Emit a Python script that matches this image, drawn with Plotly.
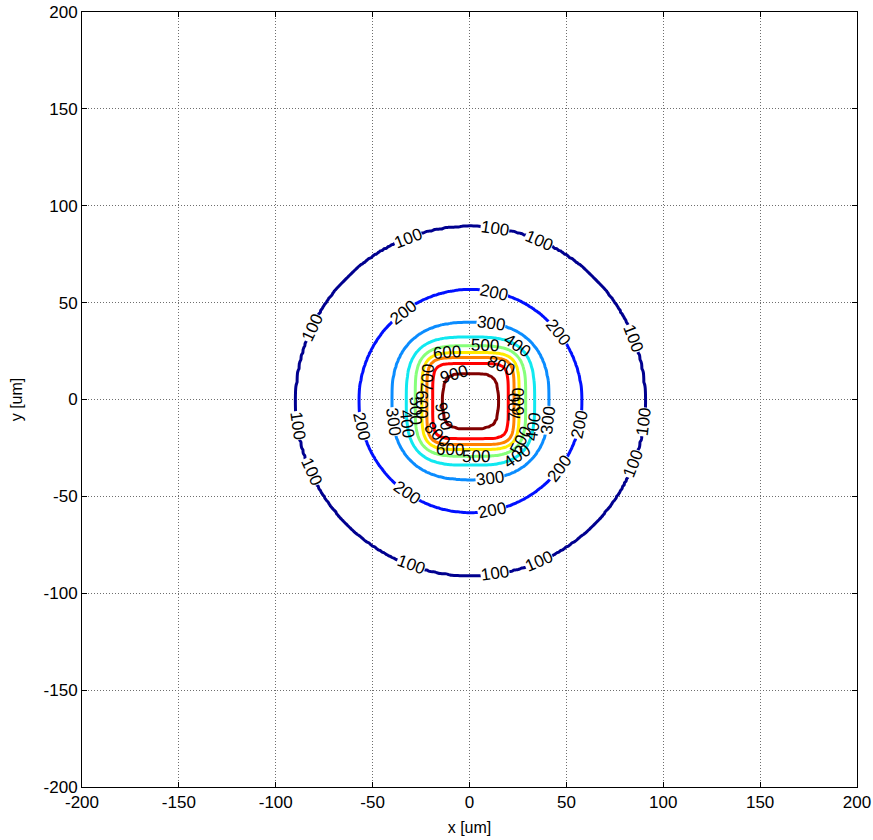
import numpy as np
import plotly.graph_objects as go

# Contour levels of the field and the size of each closed level curve (um)
levels = [100, 200, 300, 400, 500, 600, 700, 800, 900]
half_width = [90.0, 57.5, 40.5, 33.0, 28.5, 25.0, 22.5, 19.5, 14.5]   # along x / y axes
diag_radius = [90.0, 57.5, 43.5, 37.5, 33.5, 30.5, 28.0, 24.5, 16.8]  # along the 45 deg diagonals
level_colors = ["#00008F", "#0010FF", "#0A8CFF", "#10E8F0", "#86FF7A",
                "#FFEA00", "#FF8000", "#FF0000", "#800000"]
peak_value = 960.0
center = (0.5, -0.8)

# Polar angles (deg) at which each level curve carries an inline label
label_angles = {
    100: [111, 82, 67, 21, -7, -21, -67, -82, -110, -156, -172, 155],
    200: [127, 78, 38, -12, -37, -79, -125, -167],
    300: [75, -14, -76, -165],
    400: [50, -22, -50, -160],
    500: [75, -38, -84, -170],
    600: [116, -1, -113, -176],
    700: [152, -8],
    800: [50, -135],
    900: [122, -150],
}

x_ticks = [-200, -150, -100, -50, 0, 50, 100, 150, 200]
y_ticks = [-200, -150, -100, -50, 0, 50, 100, 150, 200]

FONT = "Arial, Liberation Sans, sans-serif"


def shape_exponent(a, d):
    ratio = d / a
    return 2.0 if ratio <= 1.0001 else 1.0 / (0.5 - np.log2(ratio))


def level_radius(a, d, theta):
    p = shape_exponent(a, d)
    return a / (np.abs(np.cos(theta)) ** p + np.abs(np.sin(theta)) ** p) ** (1.0 / p)


# Sampling grid of the field
xs = np.arange(-115.0, 115.5, 1.0)
ys = np.arange(-115.0, 115.5, 1.0)
X, Y = np.meshgrid(xs, ys)
dx, dy = X - center[0], Y - center[1]
r = np.hypot(dx, dy)
th = np.arctan2(dy, dx)

radii = [level_radius(a, d, th) for a, d in zip(half_width, diag_radius)]
r_nodes = [np.full_like(r, 300.0)] + radii + [np.zeros_like(r)]
v_nodes = [0.0] + [float(v) for v in levels] + [peak_value]

Z = np.zeros_like(r)
for i in range(len(r_nodes) - 1):
    r_out, r_in = r_nodes[i], r_nodes[i + 1]
    m = (r <= r_out) & (r >= r_in)
    t = (r_out[m] - r[m]) / np.maximum(r_out[m] - r_in[m], 1e-9)
    Z[m] = v_nodes[i] + t * (v_nodes[i + 1] - v_nodes[i])

lo, hi = levels[0], levels[-1]
colorscale = [[(lv - lo) / (hi - lo), c] for lv, c in zip(levels, level_colors)]

fig = go.Figure()
fig.add_trace(go.Contour(
    x=xs, y=ys, z=Z,
    zmin=lo, zmax=hi,
    colorscale=colorscale,
    showscale=False,
    contours=dict(coloring="lines", start=lo, end=hi, size=100, showlabels=False),
    line=dict(width=3),
    hoverinfo="skip",
))

# Inline level labels, rotated along the curve
annotations = []
for lv, a, d in zip(levels, half_width, diag_radius):
    for ang in label_angles[lv]:
        t0 = np.deg2rad(ang)
        eps = 0.01
        pts = []
        for tt in (t0 - eps, t0, t0 + eps):
            rr = level_radius(a, d, tt)
            pts.append((center[0] + rr * np.cos(tt), center[1] + rr * np.sin(tt)))
        tx, ty = pts[2][0] - pts[0][0], pts[2][1] - pts[0][1]
        phi = np.degrees(np.arctan2(ty, tx))
        while phi > 90:
            phi -= 180
        while phi <= -90:
            phi += 180
        annotations.append(dict(
            x=pts[1][0], y=pts[1][1], xref="x", yref="y",
            text=str(lv), showarrow=False,
            xanchor="center", yanchor="middle",
            textangle=-phi,
            font=dict(family=FONT, size=17, color="black"),
            bgcolor="white" if lv <= 300 else "rgba(0,0,0,0)",
            borderpad=0,
        ))

axis_common = dict(
    showgrid=True,
    gridcolor="#6e6e6e",
    griddash="1px,2px",
    gridwidth=1,
    zeroline=False,
    showline=True,
    linecolor="black",
    linewidth=1,
    mirror="ticks",
    ticks="inside",
    ticklen=5,
    tickcolor="black",
    tickfont=dict(family=FONT, size=17, color="black"),
    title_font=dict(family=FONT, size=16, color="black"),
    automargin=False,
)

fig.update_xaxes(range=[-200, 200], tickvals=x_ticks, ticktext=[str(v) for v in x_ticks],
                 title_text="x [um]", title_standoff=10, **axis_common)
fig.update_yaxes(range=[-200, 200], tickvals=y_ticks, ticktext=[str(v) for v in y_ticks],
                 title_text="y [um]", title_standoff=16, **axis_common)

fig.update_layout(
    width=873, height=840,
    margin=dict(l=82, r=16, t=12, b=53, autoexpand=False),
    plot_bgcolor="white",
    paper_bgcolor="white",
    showlegend=False,
    annotations=annotations,
)

fig.write_html("out.html")
